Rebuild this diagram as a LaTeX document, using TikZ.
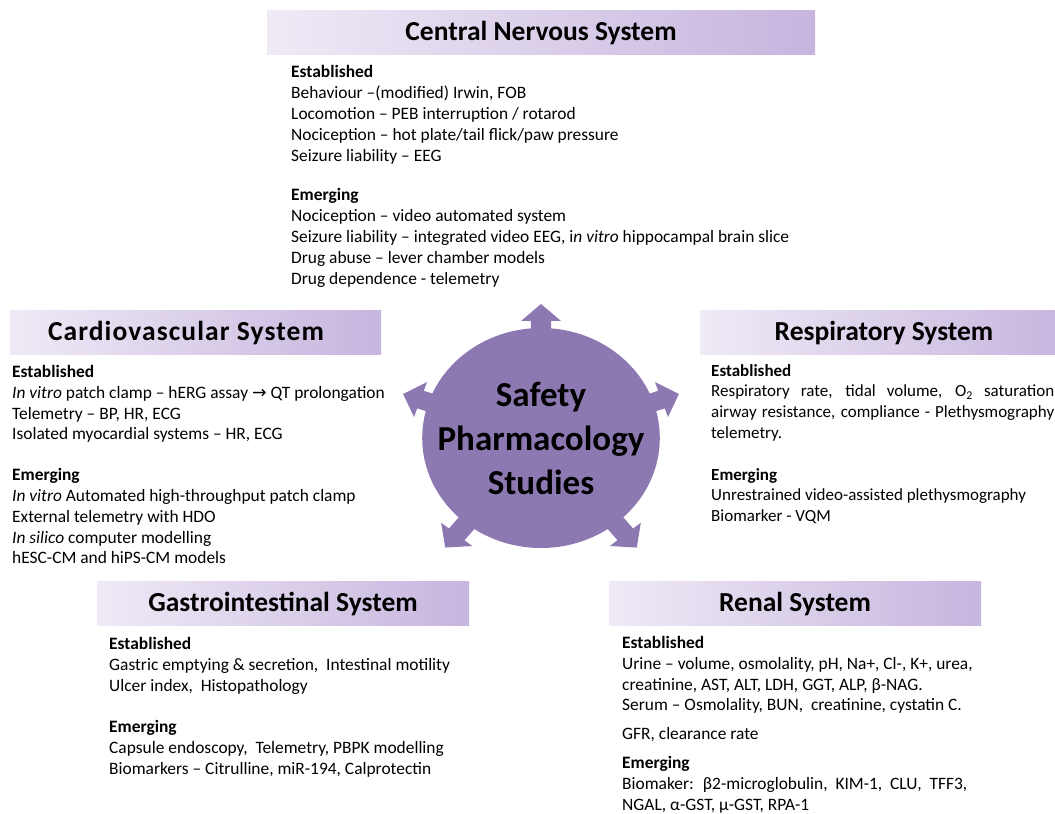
\documentclass[tikz,border=0pt]{standalone}
\usepackage{fontspec}
\setmainfont{Carlito}
\newfontfamily\symfont{DejaVu Sans}
\usepackage{tikz}

\definecolor{hub}{RGB}{141,121,178}
\definecolor{hdrlo}{RGB}{240,234,246}
\definecolor{hdrhi}{RGB}{198,181,222}

\tikzset{
	hdr/.style={left color=hdrlo, right color=hdrhi, minimum height=44, inner sep=0},
	title/.style={font=\bfseries\fontsize{27.5}{33}\selectfont},
	body/.style={anchor=north west, align=left, inner sep=0, font=\fontsize{17.4}{20.8}\selectfont},
}

\begin{document}
\begin{tikzpicture}[x=1pt, y=1pt]
	\useasboundingbox (0,0) rectangle (1055,814);

	% hub: disc with five arrows
	\begin{scope}[shift={(541,376)}, xscale=1.08]
		\foreach \a/\tip in {90/134, 161/135, 19/135, 231/141, 309/141}
			\fill [hub, rotate=\a] (90,-9.3) -- (\tip-17,-9.3) -- (\tip-17,-18.5) -- (\tip,0)
				-- (\tip-17,18.5) -- (\tip-17,9.3) -- (90,9.3) -- cycle;
		\fill [hub] (0,0) circle (110);
	\end{scope}
	\node (hubtext) at (541,376) [align=center, font=\bfseries\fontsize{35}{44}\selectfont] {Safety\\Pharmacology\\Studies};

	% headers
	\node (cns) at (541,781) [hdr, minimum width=548] {};
	\node (cnstitle) at (cns) [title] {Central Nervous System};

	\node (cvs) at (195.5,481) [hdr, minimum width=371] {};
	\node (cvstitle) at ([xshift=-9.5]cvs.center) [title] {\addfontfeature{LetterSpace=4}Cardiovascular System};

	\node (resp) at (884,481) [hdr, minimum width=368] {};
	\node (resptitle) at (resp) [title] {Respiratory System};

	\node (gi) at (283,210) [hdr, minimum width=372] {};
	\node (gititle) at (gi) [title] {Gastrointestinal System};

	\node (ren) at (795,210) [hdr, minimum width=372] {};
	\node (rentitle) at (ren) [title] {Renal System};

	% lists
	\node (cnsbody) at (291,748.5) [body] {\textbf{Established}\\
		Behaviour –(modified) Irwin, FOB\\
		Locomotion – PEB interruption / rotarod\\
		Nociception – hot plate/tail flick/paw pressure\\
		Seizure liability – EEG\\[19pt]
		\textbf{Emerging}\\
		Nociception – video automated system\\
		Seizure liability – integrated video EEG, i\textit{n vitro} hippocampal brain slice\\
		Drug abuse – lever chamber models\\
		Drug dependence - telemetry};

	\node (cvsbody) at (12,449) [body] {\textbf{Established}\\
		\textit{In vitro} patch clamp – hERG assay {\symfont →} QT prolongation\\
		Telemetry – BP, HR, ECG\\
		Isolated myocardial systems – HR, ECG\\[20pt]
		\textbf{Emerging}\\
		\textit{In vitro} Automated high-throughput patch clamp\\
		External telemetry with HDO\\
		\textit{In silico} computer modelling\\
		hESC-CM and hiPS-CM models};

	\node (respbody) at (711,450) [body, text width=343, align=justify, font=\fontsize{17}{20.8}\selectfont] {\textbf{Established}\\
		Respiratory rate, tidal volume, O\textsubscript{2} saturation\linebreak
		airway resistance, compliance - Plethysmography\linebreak
		telemetry.\\[20.8pt]
		\textbf{Emerging}\\
		Unrestrained video-assisted plethysmography\\
		Biomarker - VQM};

	\node (gibody) at (109,177) [body] {\textbf{Established}\\
		Gastric emptying \& secretion,~ Intestinal motility\\
		Ulcer index,~ Histopathology\\[21pt]
		\textbf{Emerging}\\
		Capsule endoscopy,~ Telemetry, PBPK modelling\\
		Biomarkers – Citrulline, miR-194, Calprotectin};

	\node (renbody) at (622,178) [body] {\textbf{Established}\\
		Urine – volume, osmolality, pH, Na+, Cl-, K+, urea,\\
		creatinine, AST, ALT, LDH, GGT, ALP, β-NAG.\\
		Serum – Osmolality, BUN,~ creatinine, cystatin C.\\[8pt]
		GFR, clearance rate\\[8pt]
		\textbf{Emerging}\\
		Biomaker:~ β2-microglobulin,~ KIM-1,~ CLU,~ TFF3,\\
		NGAL, α-GST, μ-GST, RPA-1};
\end{tikzpicture}
\end{document}
